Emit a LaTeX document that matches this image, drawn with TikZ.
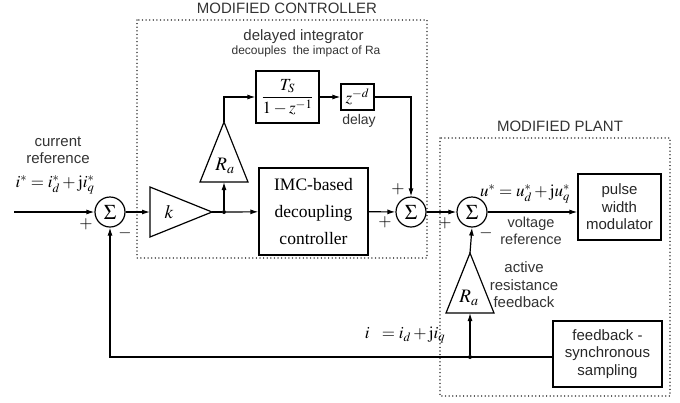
\documentclass[tikz,border=0pt]{standalone}
\usepackage{mathptmx}
\usepackage{fontspec}
\setmainfont{Liberation Serif}
\setsansfont{Liberation Sans}
\usetikzlibrary{arrows.meta}
\begin{document}
\begin{tikzpicture}[x=1pt,y=-1pt,
  sig/.style={circle,draw,line width=1.2pt,minimum size=30pt,inner sep=0pt,font=\fontsize{21}{21}\selectfont},
  blk/.style={draw,line width=1.2pt,inner sep=0pt},
  tri/.style={draw,line width=1.2pt,line join=miter},
  lbl/.style={font=\sffamily\fontsize{15}{17.5}\selectfont,align=center,inner sep=0pt,text=black!80},
  mth/.style={font=\fontsize{17}{19}\selectfont,inner sep=0pt},
  sgn/.style={font=\fontsize{17}{17}\selectfont,inner sep=0pt},
  arr/.style={-{Latex[length=8pt,width=5pt]},line width=1.2pt},
  ln/.style={line width=1.2pt},
  grp/.style={draw=black!70,line width=1.5pt,dash pattern=on 0.01pt off 3.6pt,line cap=round},
  dot/.style={circle,fill,inner sep=0pt,minimum size=4pt}]
\useasboundingbox (0,0) rectangle (680,402);

% group frames
\draw[grp] (137,20) rectangle (427,258);
\draw[grp] (440,138) rectangle (670,396);
\node[lbl] (tctl) at (287,8) {MODIFIED CONTROLLER};
\node[lbl] (tplant) at (560,126) {MODIFIED PLANT};

% summing junctions
\node[sig] (s1) at (110,212) {$\Sigma$};
\node[sig] (s2) at (411,212) {$\Sigma$};
\node[sig] (s3) at (472,212) {$\Sigma$};

% blocks
\node[blk,minimum width=63pt,minimum height=52pt] (ts) at (287.5,97)
  {\fontsize{17}{19}\selectfont$\displaystyle\frac{T_S}{1-z^{-1}}$};
\node[blk,minimum width=33pt,minimum height=26pt] (zd) at (357.5,97)
  {\fontsize{17}{19}\selectfont$z^{-d}$};
\node[blk,minimum width=109pt,minimum height=87pt,align=center,
  font=\fontsize{17.5}{27}\selectfont] (imc) at (313.5,211.5)
  {IMC-based\\decoupling\\controller};
\node[blk,minimum width=83pt,minimum height=66pt,align=center,
  font=\sffamily\fontsize{15}{17.5}\selectfont,text=black!85] (pwm) at (619.5,207)
  {pulse\\width\\modulator};
\node[blk,minimum width=109pt,minimum height=66pt,align=center,
  font=\sffamily\fontsize{15}{17.5}\selectfont,text=black!85] (fb) at (607.5,354)
  {feedback -\\synchronous\\sampling};

% gain k
\coordinate (kin) at (150,212);
\coordinate (ktip) at (212,212);
\draw[tri] (150,187) -- (ktip) -- (150,237) -- cycle;
\node[mth,font=\fontsize{19}{19}\selectfont] (klab) at (169,212) {$k$};

% Ra (controller)
\coordinate (ra1apex) at (224,122);
\coordinate (ra1base) at (224,182);
\draw[tri] (200,182) -- (ra1apex) -- (248,182) -- cycle;
\node[mth,font=\fontsize{19}{19}\selectfont] (ra1lab) at (225,166) {$R_a$};

% Ra (plant)
\coordinate (ra2apex) at (470,253);
\coordinate (ra2base) at (470,313);
\draw[tri] (446,313) -- (ra2apex) -- (494,313) -- cycle;
\node[mth,font=\fontsize{19}{19}\selectfont] (ra2lab) at (469,298) {$R_a$};

% junction points
\node[dot] (j1) at (224,212) {};
\node[dot] (j2) at (470,357) {};
\coordinate (in) at (14,212);

% connectors
\draw[arr] (in) -- (s1);
\draw[arr] (s1) -- (kin);
\draw[ln] (ktip) -- (j1);
\draw[arr] (j1) -- (ra1base);
\draw[arr] (j1) -- (imc);
\draw[arr] (ra1apex) |- (ts.west);
\draw[arr] (ts) -- (zd);
\draw[arr] (zd.east) -| (s2.north);
\draw[arr] (imc) -- (s2);
\draw[arr] (s2) -- (s3);
\draw[arr] (s3.east) -- (pwm.west |- s3.east);
\draw[arr] (ra2apex) -- (s3.south);
\draw[arr] (j2) -- (ra2base);
\draw[arr] (fb.west |- j2) -| (s1.south);

% signs
\node[sgn] (p1) at (86,224) {$+$};
\node[sgn] (m1) at (125,233) {$-$};
\node[sgn] (p2a) at (398,189) {$+$};
\node[sgn] (p2b) at (385,222) {$+$};
\node[sgn] (p3) at (445,223) {$+$};
\node[sgn] (m3) at (486,233) {$-$};

% labels
\node[lbl] (lcur) at (58,142) {current};
\node[lbl] (lref) at (58,158.5) {reference};
\node[mth] (lieq) at (55,185) {$i^{*}=i_{d}^{*}+\mathrm{j}i_{q}^{*}$};
\node[lbl] (ldi) at (303.5,37) {delayed integrator};
\node[lbl,font=\sffamily\fontsize{12}{14}\selectfont] (ldec) at (306,51) {decouples\ \ the impact of Ra};
\node[lbl,font=\sffamily\fontsize{14}{16}\selectfont] (ldel) at (359,121) {delay};
\node[mth] (lueq) at (525,194) {$u^{*}=u_{d}^{*}+\mathrm{j}u_{q}^{*}$};
\node[lbl,font=\sffamily\fontsize{14.5}{17}\selectfont] (lvolt) at (531,231) {voltage\\reference};
\node[lbl] (lact) at (524,285) {active\\resistance\\feedback};
\node[mth] (lieq2) at (405,335) {$i\ \ =i_{d}+\mathrm{j}i_{q}$};
\end{tikzpicture}
\end{document}
